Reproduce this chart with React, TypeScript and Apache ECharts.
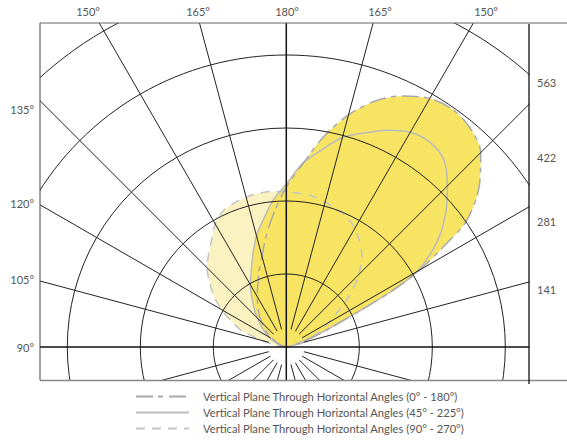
import React, { useEffect, useRef } from "react";
import * as echarts from "echarts";

// ---------- data ----------
const RING_STEP = 140.7; // candela per ring
const RING_COUNT = 6;
const RADIUS_TICKS = ["141", "281", "422", "563"];
const TOP_LABELS = ["150°", "165°", "180°", "165°", "150°"];
const LEFT_LABELS = ["135°", "120°", "105°", "90°"];

const SERIES_NAMES = [
  "Vertical Plane Through Horizontal Angles (0° - 180°)",
  "Vertical Plane Through Horizontal Angles (45° - 225°)",
  "Vertical Plane Through Horizontal Angles (90° - 270°)",
];

// vertical angles (degrees from nadir) and candela, right / left half
const s1RightAngles = [90, 100, 105, 110, 113, 116, 118, 120, 122.5, 125, 130, 135, 140, 145, 150, 155, 160, 165, 170, 175, 180];
const s1RightCd = [0, 8, 19, 48, 85, 150, 233, 297, 358, 424, 486, 530, 551, 559, 553, 534, 505, 463, 411, 353, 308];
const s1LeftAngles = [90, 110, 120, 130, 140, 150, 160, 165, 170, 175, 180];
const s1LeftCd = [0, 12, 29, 54, 81, 112, 154, 181, 220, 262, 308];

const s2RightAngles = [90, 100, 105, 110, 113, 116, 118, 120, 125, 130, 135, 140, 145, 150, 155, 160, 165, 170, 175, 180];
const s2RightCd = [0, 8, 19, 48, 85, 150, 233, 292, 355, 401, 439, 472, 482, 478, 461, 439, 418, 385, 355, 314];
const s2LeftAngles = [90, 100, 110, 120, 130, 135, 140, 145, 150, 155, 160, 165, 170, 175, 180];
const s2LeftCd = [0, 6, 17, 39, 64, 79, 96, 116, 139, 160, 189, 222, 251, 285, 314];

const s3RightAngles = [90, 100, 105, 110, 115, 120, 125, 130, 135, 140, 145, 150, 155, 160, 165, 170, 175, 180];
const s3RightCd = [0, 19, 35, 54, 71, 93, 125, 164, 197, 227, 247, 264, 276, 283, 289, 295, 297, 299];
const s3LeftAngles = [90, 95, 100, 105, 110, 115, 120, 125, 130, 135, 140, 145, 150, 155, 160, 165, 170, 175, 180];
const s3LeftCd = [0, 10, 23, 48, 91, 116, 145, 170, 193, 216, 233, 251, 274, 289, 295, 299, 301, 301, 299];

const UPPER_RAYS = [105, 120, 135, 150, 165];
const LOWER_RAYS = [15, 30, 45, 60, 75];
const RAY_INNER = 35; // candela-equivalent radius where short rays start

// ---------- helpers ----------
const rightAngle = (t: number) => 180 - t; // echarts angle (0 = top, clockwise)
const leftAngle = (t: number) => 180 + t;

function curve(la: number[], lc: number[], ra: number[], rc: number[]) {
  const pts: [number, number][] = [];
  la.forEach((t, i) => pts.push([lc[i], leftAngle(t)]));
  for (let i = ra.length - 1; i >= 0; i--) pts.push([rc[i], rightAngle(ra[i])]);
  return pts;
}

export default function App() {
  const ref = useRef<HTMLDivElement>(null);

  useEffect(() => {
    document.body.style.margin = "0";
    if (!ref.current) return;
    const chart = echarts.init(ref.current, undefined, { renderer: "svg" });
    const maxR = RING_STEP * RING_COUNT;

    const c1 = curve(s1LeftAngles, s1LeftCd, s1RightAngles, s1RightCd);
    const c2 = curve(s2LeftAngles, s2LeftCd, s2RightAngles, s2RightCd);
    const c3 = curve(s3LeftAngles, s3LeftCd, s3RightAngles, s3RightCd);

    const strong = "#F7E463";
    const light = "#FBF2C2";
    const fill = (data: any, color: string) => ({
      type: "line",
      coordinateSystem: "polar",
      data,
      smooth: 0.3,
      symbol: "none",
      silent: true,
      color,
      lineStyle: { width: 0 },
      areaStyle: { color, opacity: 1 },
      z: 1,
    });
    const outline = (name: string, data: any, color: string, type: any, width: number) => ({
      type: "line",
      name,
      coordinateSystem: "polar",
      data,
      smooth: 0.3,
      symbol: "none",
      silent: true,
      color,
      itemStyle: { color },
      lineStyle: { color, type, width },
      z: 2,
    });

    const rays: any[] = [];
    const rayAngles: number[] = [];
    UPPER_RAYS.forEach((t) => rayAngles.push(rightAngle(t), leftAngle(t)));
    LOWER_RAYS.forEach((t) => rayAngles.push(rightAngle(t), leftAngle(t)));
    rayAngles.forEach((a) =>
      rays.push({
        type: "line",
        coordinateSystem: "polar",
        data: [[RAY_INNER, a], [maxR, a]],
        symbol: "none",
        silent: true,
        lineStyle: { color: "#222", width: 1 },
        z: 3,
      })
    );
    // full vertical and horizontal lines through the centre
    rays.push({
      type: "line", coordinateSystem: "polar", symbol: "none", silent: true,
      data: [[maxR, 0], [0, 0], [maxR, 180]],
      lineStyle: { color: "#111", width: 1.5 }, z: 3,
    });
    rays.push({
      type: "line", coordinateSystem: "polar", symbol: "none", silent: true,
      data: [[maxR, 270], [0, 0], [maxR, 90]],
      lineStyle: { color: "#111", width: 1.6 }, z: 3,
    });

    const font = "Lato";
    const labelStyle = { fill: "#555", fontSize: 11, fontFamily: font };
    const topX = [88, 198, 287, 380, 486];
    const leftY = [109, 203, 279, 347];
    const rightY = [82, 157, 221, 289];

    const graphics: any[] = [
      { type: "rect", shape: { x: 0, y: 0, width: 40, height: 444 }, style: { fill: "#fff" }, z: 100, silent: true },
      { type: "rect", shape: { x: 0, y: 0, width: 567, height: 23 }, style: { fill: "#fff" }, z: 100, silent: true },
      { type: "rect", shape: { x: 0, y: 380, width: 567, height: 64 }, style: { fill: "#fff" }, z: 100, silent: true },
      { type: "rect", shape: { x: 529.5, y: 0, width: 40, height: 444 }, style: { fill: "#fff" }, z: 100, silent: true },
      { type: "line", shape: { x1: 40, y1: 23, x2: 567, y2: 23 }, style: { stroke: "#666", lineWidth: 1 }, z: 101, silent: true },
      { type: "line", shape: { x1: 40, y1: 23, x2: 40, y2: 380 }, style: { stroke: "#444", lineWidth: 1 }, z: 101, silent: true },
      { type: "line", shape: { x1: 40, y1: 380.5, x2: 567, y2: 380.5 }, style: { stroke: "#888", lineWidth: 1.6 }, z: 101, silent: true },
      { type: "line", shape: { x1: 529, y1: 24, x2: 529, y2: 384 }, style: { stroke: "#111", lineWidth: 1.3 }, z: 101, silent: true },
    ];
    TOP_LABELS.forEach((t, i) =>
      graphics.push({ type: "text", x: topX[i], y: 11, style: { ...labelStyle, text: t, align: "center", verticalAlign: "middle" }, z: 102, silent: true })
    );
    LEFT_LABELS.forEach((t, i) =>
      graphics.push({ type: "text", x: 34, y: leftY[i], style: { ...labelStyle, text: t, align: "right", verticalAlign: "middle" }, z: 102, silent: true })
    );
    RADIUS_TICKS.forEach((t, i) =>
      graphics.push({ type: "text", x: 537, y: rightY[3 - i], style: { ...labelStyle, text: t, align: "left", verticalAlign: "middle" }, z: 102, silent: true })
    );

    chart.setOption({
      animation: false,
      backgroundColor: "#fff",
      polar: { center: [286.3, 347], radius: 73 * RING_COUNT },
      angleAxis: {
        type: "value", min: 0, max: 360, interval: 15, startAngle: 90, clockwise: true,
        axisLine: { show: false }, axisTick: { show: false }, axisLabel: { show: false }, splitLine: { show: false },
      },
      radiusAxis: {
        type: "value", min: 0, max: maxR, interval: RING_STEP, z: 3,
        axisLine: { show: false }, axisTick: { show: false }, axisLabel: { show: false },
        splitLine: { show: true, lineStyle: { color: "#222", width: 1 } },
      },
      legend: {
        data: SERIES_NAMES,
        orient: "vertical",
        left: 135,
        top: 391,
        itemWidth: 53,
        itemHeight: 11,
        itemGap: 5,
        padding: 0,
        selectedMode: false,
        z: 120,
        itemStyle: { color: "rgba(0,0,0,0)", borderWidth: 0, opacity: 0 },
        textStyle: { fontFamily: font, fontSize: 11.2, color: "#555", padding: [0, 0, 0, 9] },
      },
      graphic: graphics,
      series: [
        fill(c3, light),
        fill(c1, strong),
        fill(c2, strong),
        outline(SERIES_NAMES[2], c3, "#C4C4C4", [9, 7], 1.5),
        outline(SERIES_NAMES[1], c2, "#BBBBBB", "solid", 1.5),
        outline(SERIES_NAMES[0], c1, "#A9A9A9", [17, 5, 5, 6], 1.5),
        ...rays,
      ],
    });
    return () => chart.dispose();
  }, []);

  return <div ref={ref} style={{ width: 567, height: 444 }} />;
}
